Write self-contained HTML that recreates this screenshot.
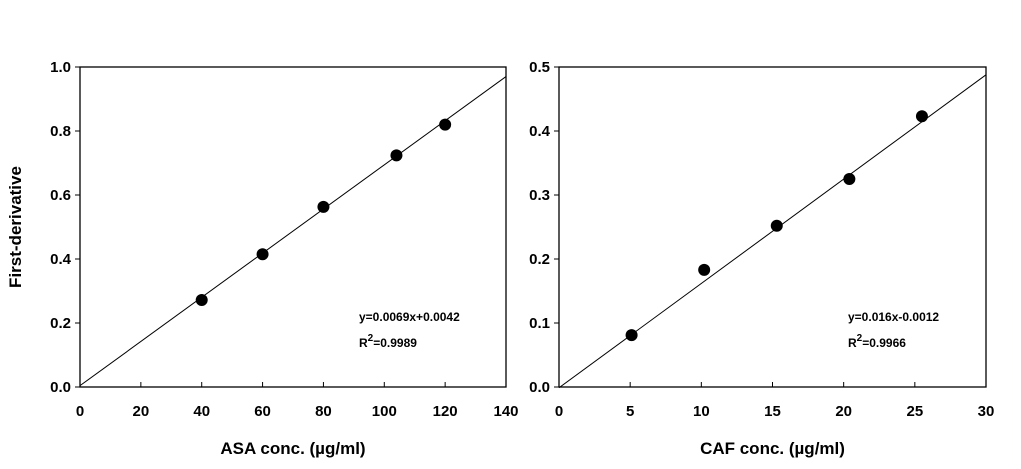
<!DOCTYPE html>
<html><head><meta charset="utf-8">
<style>
body{margin:0;background:#fff;}
svg text{font-family:"Liberation Sans",Arial,sans-serif;font-weight:bold;fill:#000;}
</style></head>
<body>
<svg id="c" width="1021" height="464" xmlns="http://www.w3.org/2000/svg"></svg>
<script>
const asaX = [40, 60, 80, 104, 120];
const asaY = [0.272, 0.415, 0.563, 0.724, 0.820];
const asaXTicks = [0, 20, 40, 60, 80, 100, 120, 140];
const asaYTicks = [0.0, 0.2, 0.4, 0.6, 0.8, 1.0];
const asaFit = [0.0069, 0.0042];
const cafX = [5.1, 10.2, 15.3, 20.4, 25.5];
const cafY = [0.081, 0.183, 0.252, 0.325, 0.423];
const cafXTicks = [0, 5, 10, 15, 20, 25, 30];
const cafYTicks = [0.0, 0.1, 0.2, 0.3, 0.4, 0.5];
const cafFit = [0.0163, -0.0012];

const svg = document.getElementById('c');
const NS = 'http://www.w3.org/2000/svg';
function mk(tag, attrs, parent){
  const e = document.createElementNS(NS, tag);
  for (const k in attrs) e.setAttribute(k, attrs[k]);
  parent.appendChild(e);
  return e;
}
function panel(opt){
  const g = mk('g', {}, svg);
  
  
  const L=opt.L, R=opt.R, T=67, B=387;
  const sx = v => L + (v - opt.xmin)/(opt.xmax-opt.xmin)*(R-L);
  const sy = v => B - (v - opt.ymin)/(opt.ymax-opt.ymin)*(B-T);
  const frame = mk('rect', {x:L, y:T, width:R-L, height:B-T, fill:'none', stroke:'#000', 'stroke-width':1.3}, g);
  
  
  opt.xt.forEach(v=>{
    mk('line',{x1:sx(v),x2:sx(v),y1:B,y2:B-5,stroke:'#000','stroke-width':1}, g);
    const t = mk('text',{x:sx(v),y:416,'text-anchor':'middle','font-size':15}, g);
    t.textContent = v;
    
    
  });
  opt.yt.forEach(v=>{
    mk('line',{x1:L-5,x2:L,y1:sy(v),y2:sy(v),stroke:'#000','stroke-width':1}, g);
    const t = mk('text',{x:L-9,y:sy(v)+5,'text-anchor':'end','font-size':15}, g);
    t.textContent = v.toFixed(1);
    
    
  });
  const ln = mk('line',{x1:sx(0),y1:sy(opt.fit[1]),x2:sx(opt.xmax),y2:sy(opt.fit[0]*opt.xmax+opt.fit[1]),stroke:'#000','stroke-width':1}, g);
  
  
  opt.xs.forEach((x,i)=>{
    const c = mk('circle',{cx:sx(x),cy:sy(opt.ys[i]),r:6,fill:'#000'}, g);
    
    
  });
  const eq = mk('text',{x:opt.eqx,y:321,'font-size':12}, g);
  eq.textContent = opt.eq;
  
  
  const r2 = mk('text',{x:opt.eqx,y:347,'font-size':12}, g);
  r2.innerHTML = 'R<tspan dy="-6" font-size="10">2</tspan><tspan dy="6">' + opt.r2 + '</tspan>';
  
  
  const xt = mk('text',{x:(L+R)/2,y:454,'text-anchor':'middle','font-size':17}, g);
  xt.textContent = opt.xtitle;
  
  
}
panel({name:'asa-chart',L:80,R:506,xmin:0,xmax:140,ymin:0,ymax:1,xt:asaXTicks,yt:asaYTicks,xs:asaX,ys:asaY,fit:asaFit,eq:'y=0.0069x+0.0042',r2:'=0.9989',eqx:359,xtitle:'ASA conc. (µg/ml)'});
panel({name:'caf-chart',L:559,R:986,xmin:0,xmax:30,ymin:0,ymax:0.5,xt:cafXTicks,yt:cafYTicks,xs:cafX,ys:cafY,fit:cafFit,eq:'y=0.016x-0.0012',r2:'=0.9966',eqx:848,xtitle:'CAF conc. (µg/ml)'});
const yt = mk('text',{x:0,y:0,'text-anchor':'middle','font-size':17,transform:'translate(21,227) rotate(-90)'}, svg);
yt.textContent = 'First-derivative';


</script>
</body></html>
